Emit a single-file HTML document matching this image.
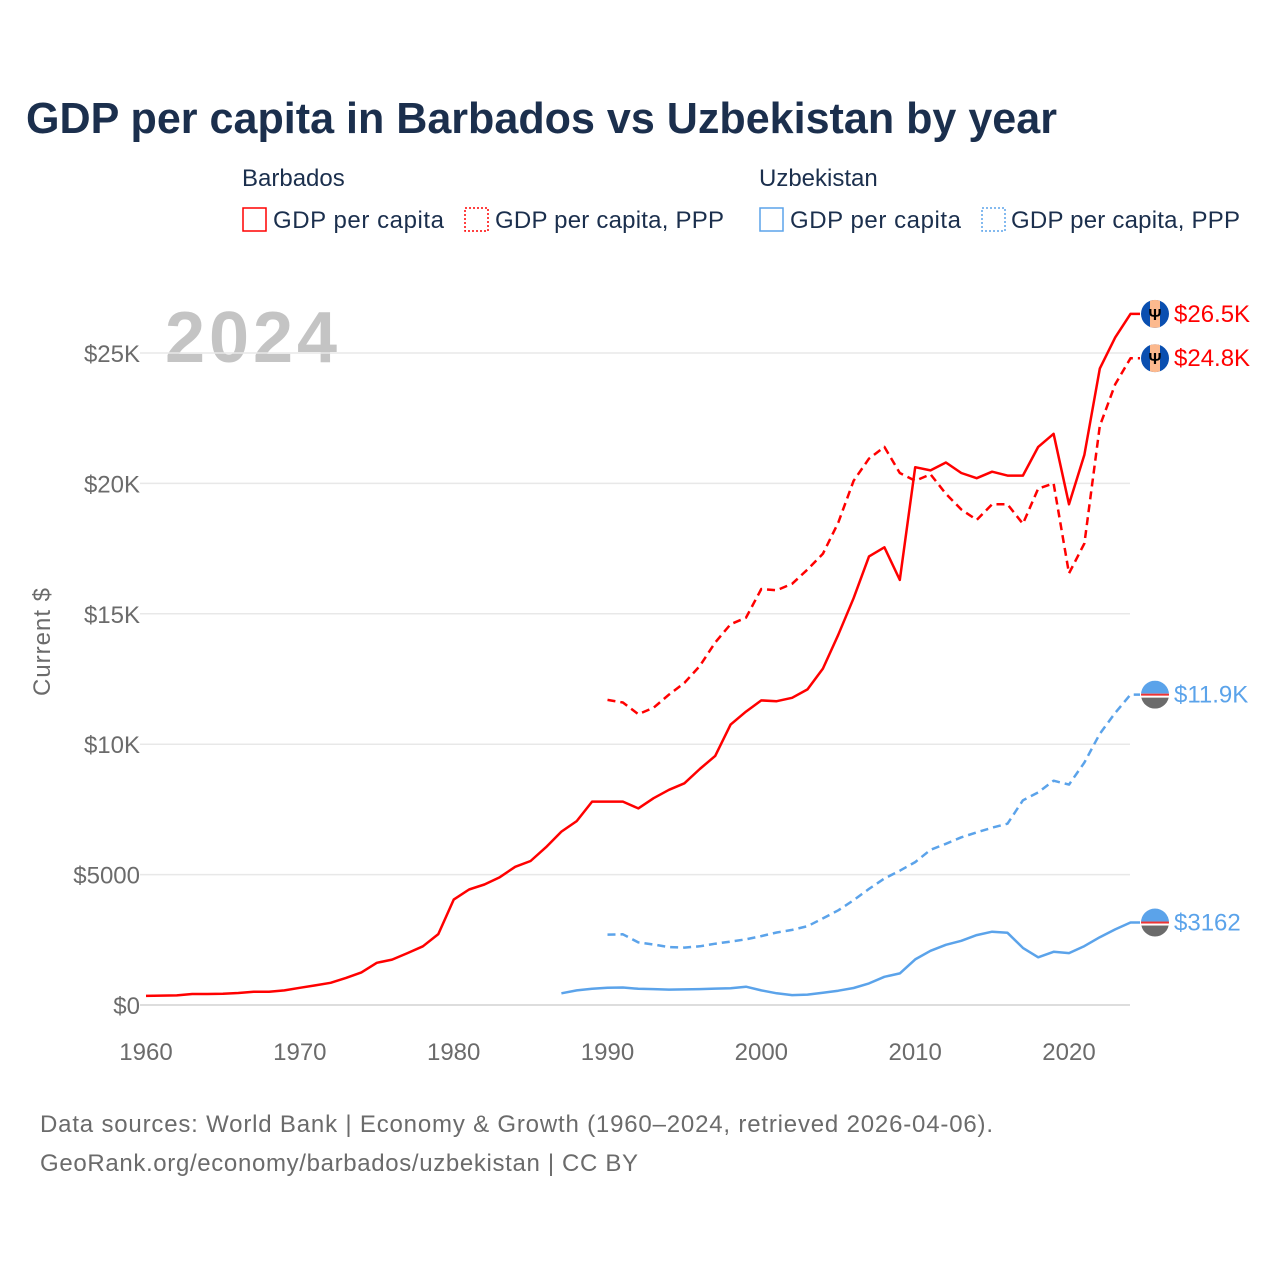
<!DOCTYPE html>
<html><head><meta charset="utf-8"><style>
body{margin:0;background:#fff;width:1280px;height:1280px;overflow:hidden;font-family:"Liberation Sans",sans-serif}
</style></head><body>
<svg width="1280" height="1280" xmlns="http://www.w3.org/2000/svg" font-family="Liberation Sans, sans-serif">
<text x="26" y="133" font-size="44" font-weight="bold" fill="#1b2f4d" textLength="1031" lengthAdjust="spacingAndGlyphs">GDP per capita in Barbados vs Uzbekistan by year</text>
<g font-size="24" fill="#1b2f4d">
<text x="242" y="186">Barbados</text>
<rect x="243" y="208" width="23" height="23" fill="none" stroke="#ff0000" stroke-width="1.5"/>
<text x="273" y="228" textLength="171">GDP per capita</text>
<rect x="465" y="208" width="23" height="23" fill="none" stroke="#ff0000" stroke-width="1.5" stroke-dasharray="2,2"/>
<text x="495" y="228" textLength="229">GDP per capita, PPP</text>
<text x="759" y="186">Uzbekistan</text>
<rect x="760" y="208" width="23" height="23" fill="none" stroke="#5ba3ea" stroke-width="1.5"/>
<text x="790" y="228" textLength="171">GDP per capita</text>
<rect x="982" y="208" width="23" height="23" fill="none" stroke="#5ba3ea" stroke-width="1.5" stroke-dasharray="2,2"/>
<text x="1011" y="228" textLength="229">GDP per capita, PPP</text>
</g>
<text x="165" y="362" font-size="72" font-weight="bold" fill="#c4c4c4" textLength="172">2024</text>
<text transform="translate(50,642) rotate(-90)" text-anchor="middle" font-size="24" fill="#6b6b6b" textLength="108">Current $</text>
<g id="grid"></g><g id="yt"></g><g id="xt"></g><g id="lines"></g><g id="ends"></g>
<text x="40" y="1132" font-size="24" fill="#6b6b6b" textLength="953">Data sources: World Bank | Economy &amp; Growth (1960–2024, retrieved 2026-04-06).</text>
<text x="40" y="1171" font-size="24" fill="#6b6b6b" textLength="598">GeoRank.org/economy/barbados/uzbekistan | CC BY</text>
</svg>
<script>
const yTicks=[0,5000,10000,15000,20000,25000];
const yTickLabels=["$0","$5000","$10K","$15K","$20K","$25K"];
const xTicks=[1960,1970,1980,1990,2000,2010,2020];
const brbGdpStart=1960;
const brbGdp=[350,360,370,420,420,430,460,510,510,560,660,750,850,1040,1250,1620,1740,1990,2250,2720,4040,4430,4620,4900,5300,5520,6050,6650,7050,7800,7800,7800,7540,7930,8250,8500,9050,9550,10750,11250,11680,11650,11780,12100,12900,14200,15600,17200,17550,16300,20620,20500,20800,20400,20200,20450,20300,20300,21400,21900,19200,21100,24400,25600,26500];
const brbPppStart=1990;
const brbPpp=[11700,11600,11150,11400,11900,12350,13000,13900,14600,14850,15950,15900,16150,16700,17300,18500,20100,20950,21400,20400,20100,20350,19600,19000,18600,19200,19200,18450,19800,20000,16550,17700,22200,23800,24800];
const uzbGdpStart=1987;
const uzbGdp=[450,560,620,660,670,620,610,590,600,610,630,640,700,560,450,380,400,470,550,650,830,1080,1210,1750,2080,2310,2460,2680,2810,2770,2190,1830,2040,1990,2260,2600,2900,3162];
const uzbPppStart=1990;
const uzbPpp=[2700,2710,2400,2320,2220,2200,2250,2350,2430,2520,2640,2780,2880,3020,3320,3630,4020,4450,4850,5150,5480,5950,6180,6430,6620,6800,6950,7850,8150,8600,8450,9300,10400,11200,11900];
const endLabels=["$26.5K","$24.8K","$11.9K","$3162"];

const NS="http://www.w3.org/2000/svg";
const X=y=>146+(y-1960)*(1069-146)/60;
const Y=v=>1005-v*(1005-353)/25000;
function mk(t,a,p){const e=document.createElementNS(NS,t);for(const k in a)e.setAttribute(k,a[k]);document.getElementById(p).appendChild(e);return e;}
yTicks.forEach((v,i)=>{
 const g=mk('line',{x1:140,x2:1130,y1:Y(v),y2:Y(v),stroke:i==0?'#ddd':'#e8e8e8','stroke-width':i==0?2:1.5},'grid');
 
 
 const t=mk('text',{x:140,y:Y(v)+9,'text-anchor':'end','font-size':24,fill:'#6b6b6b'},'yt');
 t.textContent=yTickLabels[i];
 
 
});
xTicks.forEach(v=>{
 const t=mk('text',{x:X(v),y:1060,'text-anchor':'middle','font-size':24,fill:'#6b6b6b'},'xt');
 t.textContent=v;
 
 
});
const series=[
 {d:brbGdp,s:brbGdpStart,c:'#ff0000',dash:null,n:'line-barbados-gdp',flag:'brb'},
 {d:brbPpp,s:brbPppStart,c:'#ff0000',dash:'8,5',n:'line-barbados-ppp',flag:'brb'},
 {d:uzbPpp,s:uzbPppStart,c:'#5ba3ea',dash:'8,5',n:'line-uzbekistan-ppp',flag:'uzb'},
 {d:uzbGdp,s:uzbGdpStart,c:'#5ba3ea',dash:null,n:'line-uzbekistan-gdp',flag:'uzb'}
];
series.forEach((sr,i)=>{
 const pts=sr.d.map((v,j)=>X(sr.s+j).toFixed(1)+','+Y(v).toFixed(1));
 const last=sr.d[sr.d.length-1];
 pts.push('1140,'+Y(last).toFixed(1));
 const a={points:pts.join(' '),fill:'none',stroke:sr.c,'stroke-width':2.5,'stroke-linejoin':'round'};
 if(sr.dash)a['stroke-dasharray']=sr.dash;
 const p=mk('polyline',a,'lines');
 
 
 const cy=Y(last),cx=1155;
 const g=mk('g',{},'ends');
 
 
 const id='c'+i;
 const cp=document.createElementNS(NS,'clipPath');cp.setAttribute('id',id);
 const cc=document.createElementNS(NS,'circle');cc.setAttribute('cx',cx);cc.setAttribute('cy',cy);cc.setAttribute('r',14);cp.appendChild(cc);g.appendChild(cp);
 const gg=document.createElementNS(NS,'g');gg.setAttribute('clip-path','url(#'+id+')');g.appendChild(gg);
 const r=(x,y,w,h,f)=>{const e=document.createElementNS(NS,'rect');e.setAttribute('x',x);e.setAttribute('y',y);e.setAttribute('width',w);e.setAttribute('height',h);e.setAttribute('fill',f);gg.appendChild(e);};
 if(sr.flag==='brb'){
  r(cx-14,cy-14,28,28,'#0a4fb0');r(cx-5,cy-14,10,28,'#fcb98e');
  const t=document.createElementNS(NS,'text');t.setAttribute('x',cx);t.setAttribute('y',cy+6);t.setAttribute('text-anchor','middle');t.setAttribute('font-size',16);t.setAttribute('font-weight','bold');t.setAttribute('fill','#000');t.textContent='Ψ';gg.appendChild(t);
 }else{
  r(cx-14,cy-14,28,13,'#5ba3ea');r(cx-14,cy-1,28,4,'#ffffff');r(cx-14,cy-1,28,2,'#e33');r(cx-14,cy+3,28,11,'#6b6b6b');
 }
 const t=mk('text',{x:1174,y:cy+8,'font-size':24,fill:sr.c},'ends');
 t.textContent=endLabels[i];
 
 
});
</script>
</body></html>
